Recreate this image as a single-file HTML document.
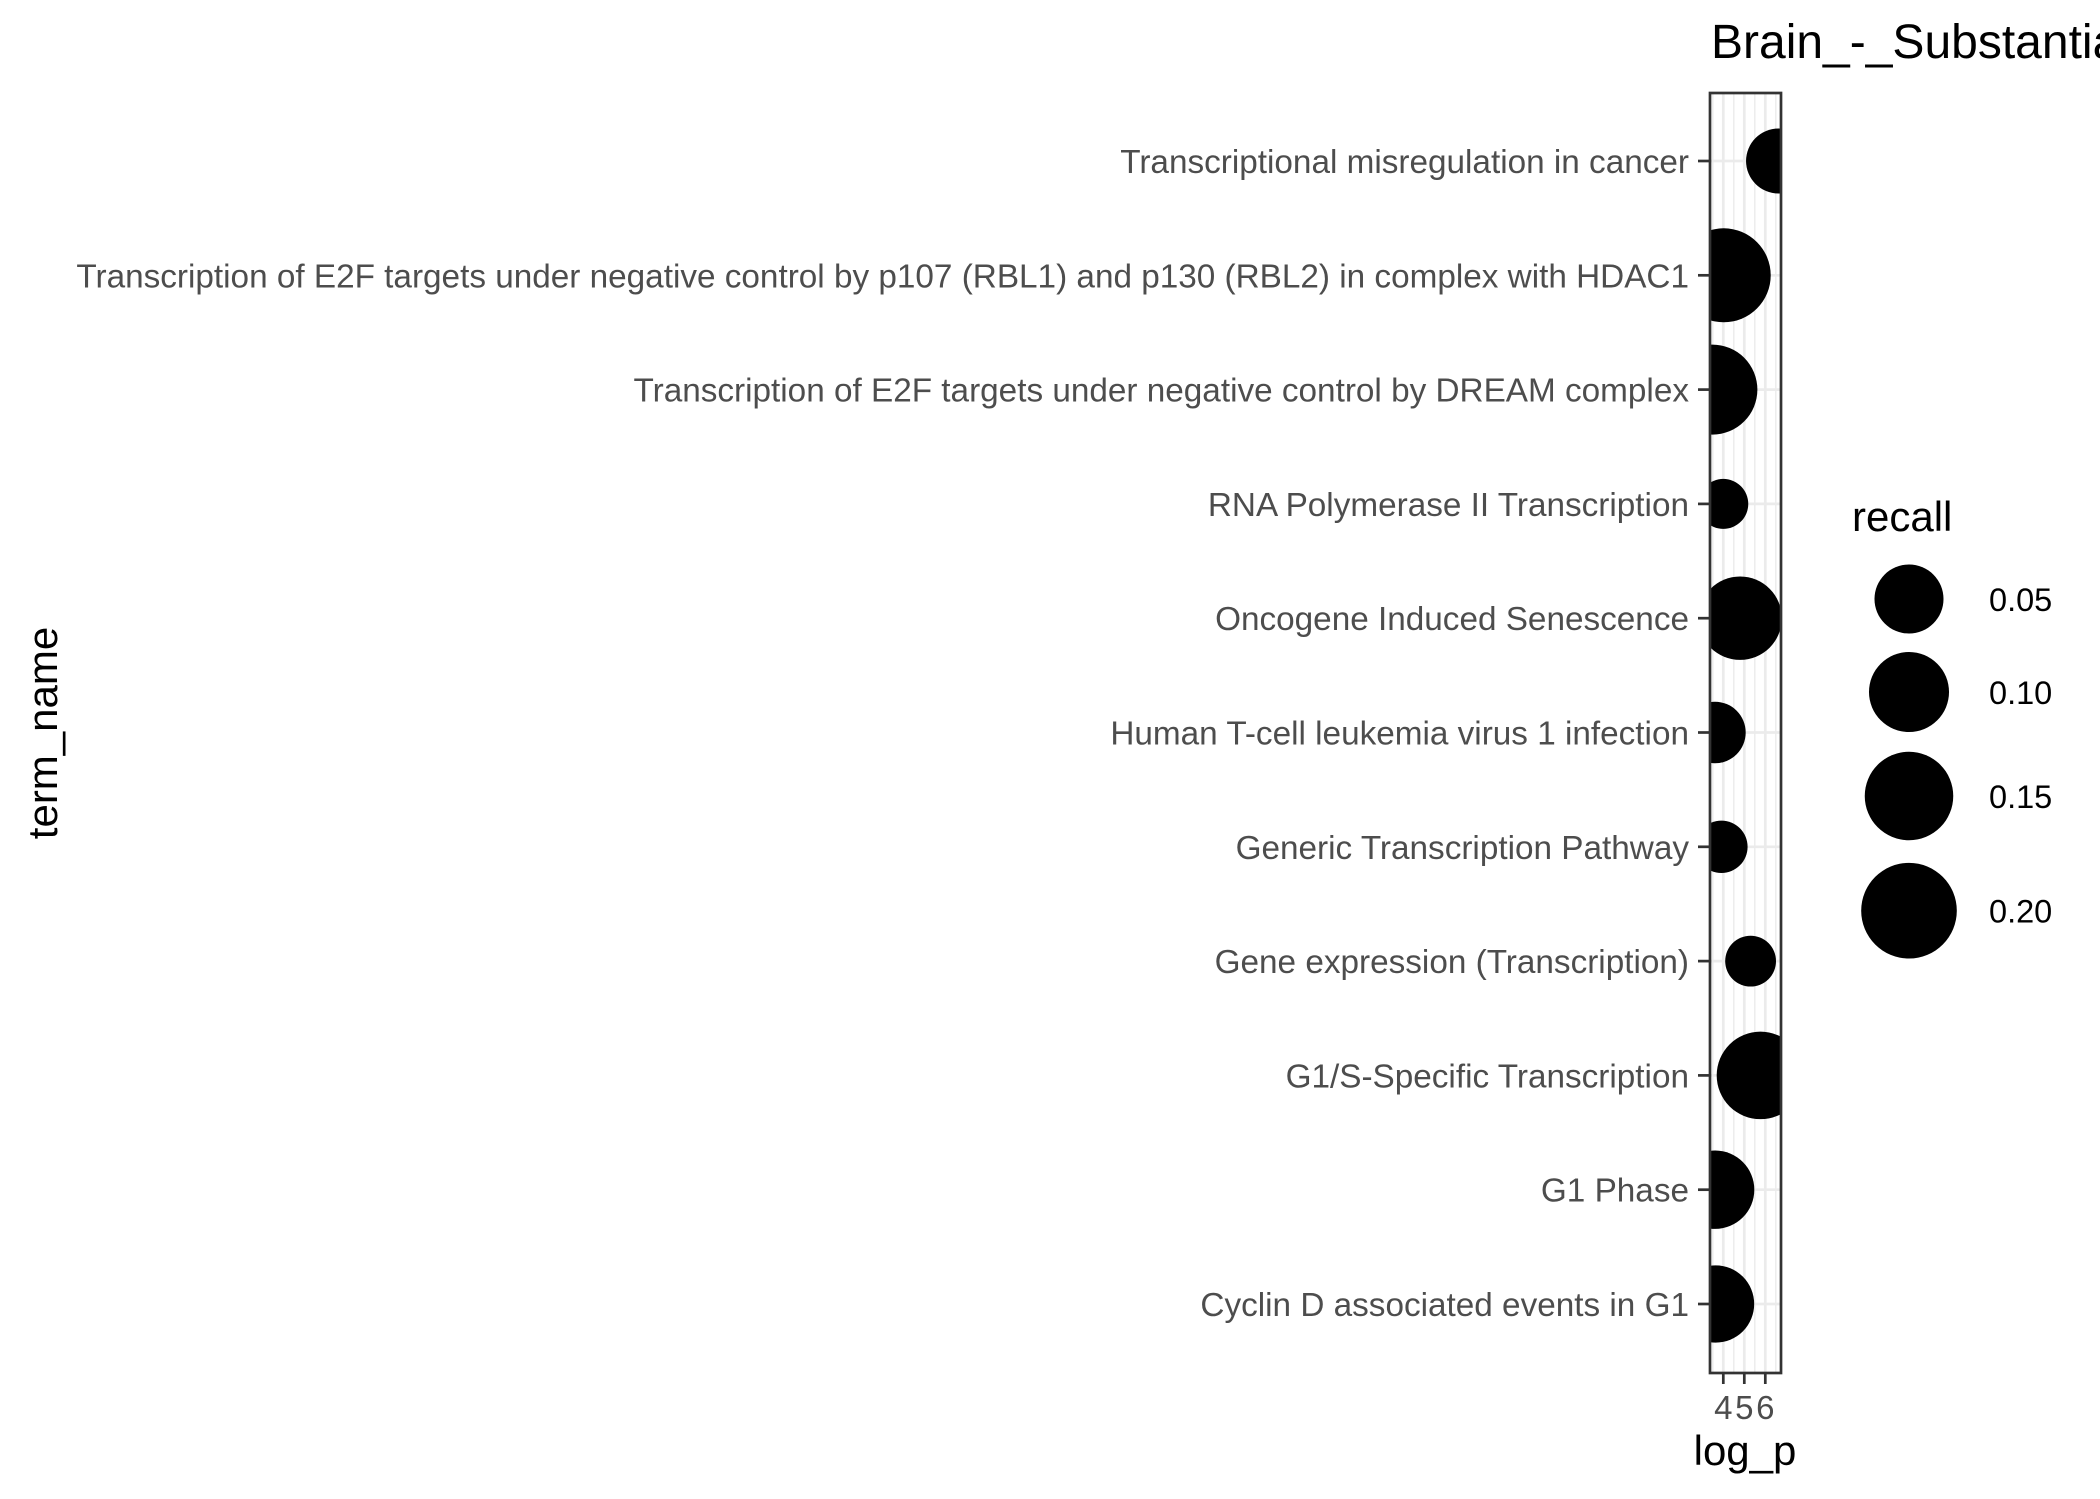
<!DOCTYPE html>
<html><head><meta charset="utf-8"><style>
html,body{margin:0;padding:0;background:#fff;}
svg{display:block;font-family:"Liberation Sans",sans-serif;}
</style></head><body>
<svg id="chart" width="2100" height="1499" viewBox="0 0 2100 1499" xmlns="http://www.w3.org/2000/svg">
<defs><clipPath id="pclip"><rect x="1710" y="93" width="71" height="1280"/></clipPath></defs>
<rect width="2100" height="1499" fill="#fff"/>
<g id="grid"></g>
<g id="marks" clip-path="url(#pclip)"></g>
<rect x="1710" y="93" width="71" height="1280" fill="none" stroke="#333" stroke-width="2.7"/>
<g id="yaxis"></g>
<g id="xaxis"></g>
<text x="1711" y="58" font-size="48" fill="#000">Brain_-_Substantia_nigra</text>
<text x="1745" y="1465" font-size="42" text-anchor="middle" fill="#000">log_p</text>
<text transform="translate(57,733) rotate(-90)" font-size="42" text-anchor="middle" fill="#000">term_name</text>
<text x="1852" y="531" font-size="42" fill="#000">recall</text>
<g id="legend"></g>
</svg>
<script>
const terms = ["Transcriptional misregulation in cancer","Transcription of E2F targets under negative control by p107 (RBL1) and p130 (RBL2) in complex with HDAC1","Transcription of E2F targets under negative control by DREAM complex","RNA Polymerase II Transcription","Oncogene Induced Senescence","Human T-cell leukemia virus 1 infection","Generic Transcription Pathway","Gene expression (Transcription)","G1/S-Specific Transcription","G1 Phase","Cyclin D associated events in G1"];
const logP = [6.63,4.02,3.48,4.0,4.80,3.60,3.91,5.30,5.77,3.61,3.63];
const recall = [0.036,0.188,0.16,0.004,0.119,0.026,0.007,0.005,0.144,0.0915,0.086];
const xTicks = [4,5,6];
const legendValues = [0.05,0.10,0.15,0.20];
const legendLabels = ["0.05","0.10","0.15","0.20"];

const NS="http://www.w3.org/2000/svg";
const px0=1723.3, pxPer=21;
function xScale(v){return px0+(v-4)*pxPer;}
function yScale(i){return 161+i*114.3;}
function rScale(v){return 21.2+59.5*Math.sqrt(Math.max(v,0));}
function mk(tag,attrs,parent){const e=document.createElementNS(NS,tag);for(const k in attrs)e.setAttribute(k,attrs[k]);parent.appendChild(e);return e;}
const grid=document.getElementById('grid'),marks=document.getElementById('marks'),yaxis=document.getElementById('yaxis'),xaxis=document.getElementById('xaxis'),legend=document.getElementById('legend');
mk('rect',{x:1710,y:93,width:71,height:1280,fill:'#fff'},grid);
for(let m=3.5;m<=6.5;m+=1){
  const l=mk('line',{x1:xScale(m),x2:xScale(m),y1:93,y2:1373,stroke:'#ebebeb','stroke-width':1.4},grid);
  
  
}
xTicks.forEach(t=>{
  const l=mk('line',{x1:xScale(t),x2:xScale(t),y1:93,y2:1373,stroke:'#ebebeb','stroke-width':2.7},grid);
  
  
  const tk=mk('line',{x1:xScale(t),x2:xScale(t),y1:1374,y2:1384,stroke:'#333','stroke-width':2.7},xaxis);
  
  
  const tx=mk('text',{x:xScale(t),y:1419,'font-size':33,fill:'#4d4d4d','text-anchor':'middle'},xaxis);
  tx.textContent=t;
  
  
});
terms.forEach((t,i)=>{
  const y=yScale(i);
  const g=mk('line',{x1:1710,x2:1781,y1:y,y2:y,stroke:'#ebebeb','stroke-width':2.7},grid);
  
  
  const tk=mk('line',{x1:1698,x2:1709,y1:y,y2:y,stroke:'#333','stroke-width':2.7},yaxis);
  
  
  const tx=mk('text',{x:1689,y:y+12,'font-size':33.3,fill:'#4d4d4d','text-anchor':'end'},yaxis);
  tx.textContent=t;
  
  
  const c=mk('circle',{cx:xScale(logP[i]),cy:y,r:rScale(recall[i]),fill:'#000'},marks);
  
  
});
const legY=[599,692,796,910.7];
legendValues.forEach((v,i)=>{
  const c=mk('circle',{cx:1909,cy:legY[i],r:rScale(v),fill:'#000'},legend);
  
  
  const tx=mk('text',{x:1989,y:legY[i]+12,'font-size':32.5,fill:'#000'},legend);
  tx.textContent=legendLabels[i];
  
  
});
</script>
</body></html>
